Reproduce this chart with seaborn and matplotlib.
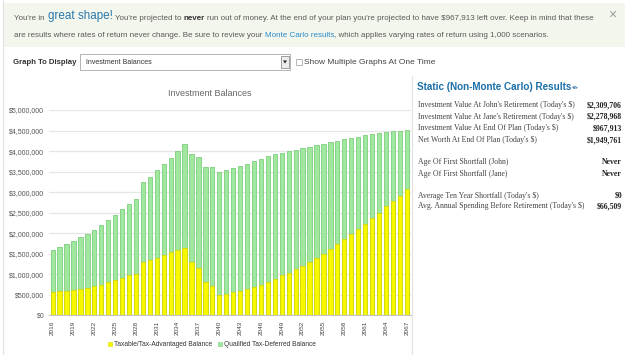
import matplotlib
matplotlib.use('Agg')
import matplotlib.pyplot as plt
import seaborn as sns
import pandas as pd
from matplotlib.patches import Rectangle, Polygon, Circle
from matplotlib.lines import Line2D
from matplotlib.ticker import FuncFormatter, MultipleLocator

# ---- data ----
years = [str(y) for y in range(2016, 2068)]
taxable = [560, 580, 600, 625, 650, 670, 710, 750, 800, 850, 920, 970, 1010,
           1310, 1340, 1400, 1460, 1530, 1580, 1650, 1310, 1140, 800, 710, 490,
           520, 560, 590, 630, 690, 750, 820, 890, 970, 1040, 1130, 1210, 1300,
           1400, 1500, 1620, 1740, 1860, 1970, 2100, 2230, 2380, 2500, 2650,
           2780, 2910, 3070]
qualified = [1030, 1080, 1140, 1185, 1250, 1310, 1370, 1440, 1510, 1590, 1660,
             1740, 1830, 1930, 2020, 2130, 2230, 2310, 2430, 2530, 2630, 2710,
             2800, 2890, 2990, 3010, 3020, 3050, 3060, 3060, 3060, 3050, 3030,
             2980, 2950, 2900, 2860, 2810, 2740, 2680, 2600, 2510, 2430, 2350,
             2250, 2150, 2030, 1930, 1810, 1700, 1590, 1440]
series_labels = ['Taxable/Tax-Advantaged Balance', 'Qualified Tax-Deferred Balance']

result_labels = ["Investment Value At John's Retirement (Today's $)",
                 "Investment Value At Jane's Retirement (Today's $)",
                 "Investment Value At End Of Plan (Today's $)",
                 "Net Worth At End Of Plan (Today's $)",
                 "Age Of First Shortfall (John)",
                 "Age Of First Shortfall (Jane)",
                 "Average Ten Year Shortfall (Today's $)",
                 "Avg. Annual Spending Before Retirement (Today's $)"]
result_values = ['$2,309,706', '$2,278,968', '$967,913', '$1,949,761',
                 'Never', 'Never', '$0', '$66,509']

YELLOW, YELLOW_EDGE = '#f7f700', '#d8d800'
GREEN, GREEN_EDGE = '#a0e8a0', '#7ccf7c'

sns.set_style('white')
plt.rcParams['font.family'] = ['Liberation Sans', 'DejaVu Sans']

W, H = 628, 355
fig = plt.figure(figsize=(W / 100, H / 100), dpi=100)
fig.patch.set_facecolor('white')


def fx(x):
    return x / W


def fy(y):
    return 1 - y / H


def rect(x0, y0, x1, y1, **kw):
    fig.add_artist(Rectangle((fx(x0), fy(y1)), (x1 - x0) / W, (y1 - y0) / H,
                             transform=fig.transFigure, **kw))


def rich_line(x, y, parts):
    """draw text pieces one after another on the same baseline"""
    renderer = fig.canvas.get_renderer()
    for txt, size, weight, color, gap in parts:
        if gap:
            x += 0.278 * size * 100 / 72
        t = fig.text(fx(x), fy(y), txt, fontsize=size, fontweight=weight,
                     color=color, va='baseline', ha='left')
        x = t.get_window_extent(renderer).x1
    return x


# ---- page chrome ----
fig.add_artist(Line2D([fx(3), fx(3)], [0, 1], color='#e2e2e2', lw=0.8,
                      transform=fig.transFigure))
rect(3, 3, 625, 47, facecolor='#f3f6ec', edgecolor='none')

small = 5.8
grey = '#5a5a5a'
rich_line(14, 19.5, [("You're in", small, 'normal', grey, False),
                     ('great shape!', 8.4, 'normal', '#2a78ab', True),
                     ("You're projected to", small, 'normal', grey, True),
                     ('never', small, 'bold', '#333333', True),
                     ("run out of money. At the end of your plan you're projected to have "
                      "$967,913 left over. Keep in mind that these", small, 'normal', grey, True)])
rich_line(14, 37, [('are results where rates of return never change. Be sure to review your',
                    small, 'normal', grey, False),
                   ('Monte Carlo results', small, 'normal', '#2b8ccc', True),
                   (', which applies varying rates of return using 1,000 scenarios.',
                    small, 'normal', grey, False)])
fig.text(fx(612), fy(15), '\u00d7', fontsize=10, color='#9a9a9a', ha='center', va='center')

# graph selector row
fig.text(fx(13), fy(62), 'Graph To Display', fontsize=5.6, fontweight='bold',
         color='#333333', va='center')
rect(80, 54, 290, 70, facecolor='white', edgecolor='#a8a8a8', linewidth=0.6)
fig.text(fx(86), fy(62), 'Investment Balances', fontsize=5, color='#333333', va='center')
rect(281, 56, 289, 68, facecolor='#ececec', edgecolor='#7a7a7a', linewidth=0.5)
fig.add_artist(Polygon([(fx(283), fy(60.5)), (fx(287), fy(60.5)), (fx(285), fy(63.5))],
                       closed=True, facecolor='#222222', edgecolor='none',
                       transform=fig.transFigure))
rect(296, 59, 302, 65, facecolor='white', edgecolor='#9a9a9a', linewidth=0.5)
fig.text(fx(304), fy(62), 'Show Multiple Graphs At One Time', fontsize=6,
         color='#444444', va='center')

# ---- chart ----
df = pd.DataFrame({'year': years, 'taxable': [v * 1000 for v in taxable],
                   'qualified': [v * 1000 for v in qualified]})
df['total'] = df['taxable'] + df['qualified']

ax = fig.add_axes([fx(48.5), fy(315.3), (410.9 - 48.5) / W, (315.3 - 110) / H])
sns.barplot(data=df, x='year', y='total', color=GREEN, saturation=1, width=0.62,
            edgecolor=GREEN_EDGE, linewidth=0.6, ax=ax)
sns.barplot(data=df, x='year', y='taxable', color=YELLOW, saturation=1, width=0.62,
            edgecolor=YELLOW_EDGE, linewidth=0.6, ax=ax)

ax.set_xlim(-0.6, len(years) - 0.4)
ax.set_ylim(0, 5000000)
ax.yaxis.set_major_locator(MultipleLocator(500000))
ax.yaxis.set_major_formatter(FuncFormatter(lambda v, p: f'${v:,.0f}'))
ax.grid(axis='y', color='#e6e6e6', lw=0.9)
ax.set_axisbelow(True)
for s in ['top', 'right', 'left']:
    ax.spines[s].set_visible(False)
ax.spines['bottom'].set_color('#c4c4c4')
ax.spines['bottom'].set_linewidth(0.8)
ax.set_xticks(range(len(years)))
ax.set_xticklabels([y if i % 3 == 0 else '' for i, y in enumerate(years)], rotation=90)
ax.tick_params(axis='x', length=2.5, width=0.6, color='#c4c4c4', labelsize=4.6,
               labelcolor='#444444', pad=1.5)
ax.tick_params(axis='y', length=0, labelsize=5, labelcolor='#555555', pad=3)
ax.set_xlabel('')
ax.set_ylabel('')

fig.text(fx(210), fy(94), 'Investment Balances', ha='center', va='center',
         fontsize=6.5, color='#666666')

handles = [Line2D([], [], marker='s', ls='none', markersize=3.5, markerfacecolor=c,
                  markeredgecolor=e, markeredgewidth=0.4)
           for c, e in [(YELLOW, YELLOW_EDGE), (GREEN, GREEN_EDGE)]]
leg = fig.legend(handles, series_labels, loc='center', bbox_to_anchor=(fx(212), fy(345)),
                 ncol=2, frameon=False, fontsize=4.8, handletextpad=0.2,
                 columnspacing=0.8, handlelength=0.8)
for t in leg.get_texts():
    t.set_color('#333333')

# ---- right panel ----
fig.add_artist(Line2D([fx(412), fx(412)], [fy(76), 0], color='#e2e2e2', lw=0.8,
                      transform=fig.transFigure))
title = fig.text(fx(417), fy(87), 'Static (Non-Monte Carlo) Results', fontsize=7.1,
                 fontweight='bold', color='#1b6fa8', va='center')
tb = title.get_window_extent(fig.canvas.get_renderer())
fig.add_artist(Circle((fx(tb.x1 + 3.5), fy(87.5)), 2.6 / W, facecolor='#5b8fbb',
                      edgecolor='none', transform=fig.transFigure))
fig.text(fx(tb.x1 + 3.5), fy(87.5), '?', fontsize=3.5, color='white', fontweight='bold',
         ha='center', va='center')

row_y = [105, 116.7, 128.3, 140, 162.3, 174, 195.7, 206.5]
for lab, val, yy in zip(result_labels, result_values, row_y):
    fig.text(fx(418), fy(yy), lab, fontsize=5.55, family='Liberation Serif',
             color='#444444', va='center')
    fig.text(fx(622), fy(yy), val, fontsize=5.55, family='Liberation Serif',
             fontweight='bold', color='#222222', va='center', ha='right')

fig.savefig('out.png', dpi=100, facecolor='white')
